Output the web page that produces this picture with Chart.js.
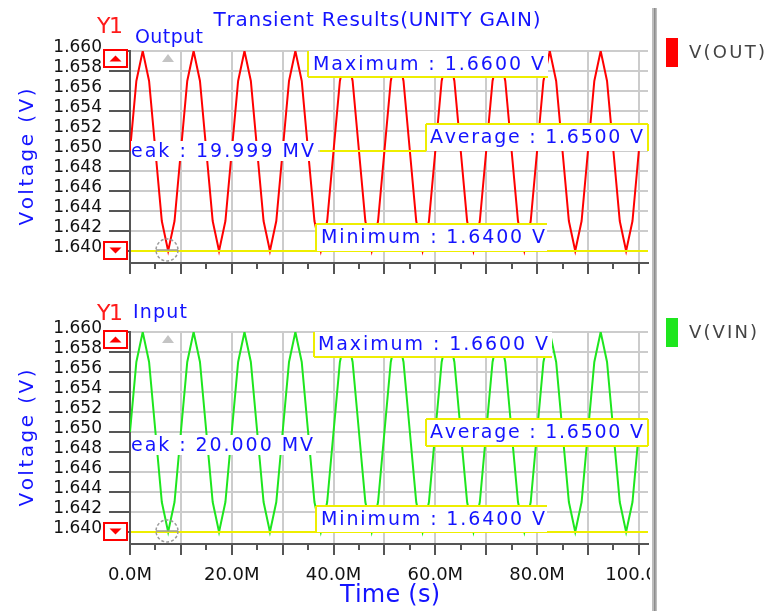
<!DOCTYPE html>
<html>
<head>
  <title>Transient Results(UNITY GAIN)</title>
  <script src="https://cdn.jsdelivr.net/npm/chart.js"></script>
  <style>
    body {
      margin: 0;
      background-color: #fff;
    }

    .wrap {
      position: relative;
      width: 767px;
      height: 611px;
      overflow: hidden;
    }

    canvas {
      position: absolute;
      left: 0;
    }

    #outChart { top: 0; }
    #inChart { top: 285px; }
  </style>
</head>
<body>
  <div class="wrap">
    <canvas id="outChart" width="767" height="285"></canvas>
    <canvas id="inChart" width="767" height="326"></canvas>
  </div>

  <script>
    // time in ms ("M" = milli in the spice viewer)
    const timeMs = [
      0, 1.25, 2.5, 3.75, 5, 6.25, 7.5, 8.75,
      10, 11.25, 12.5, 13.75, 15, 16.25, 17.5, 18.75,
      20, 21.25, 22.5, 23.75, 25, 26.25, 27.5, 28.75,
      30, 31.25, 32.5, 33.75, 35, 36.25, 37.5, 38.75,
      40, 41.25, 42.5, 43.75, 45, 46.25, 47.5, 48.75,
      50, 51.25, 52.5, 53.75, 55, 56.25, 57.5, 58.75,
      60, 61.25, 62.5, 63.75, 65, 66.25, 67.5, 68.75,
      70, 71.25, 72.5, 73.75, 75, 76.25, 77.5, 78.75,
      80, 81.25, 82.5, 83.75, 85, 86.25, 87.5, 88.75,
      90, 91.25, 92.5, 93.75, 95, 96.25, 97.5, 98.75,
      100
    ];

    const vOut = [
      1.650, 1.657, 1.660, 1.657, 1.650, 1.643, 1.640, 1.643,
      1.650, 1.657, 1.660, 1.657, 1.650, 1.643, 1.640, 1.643,
      1.650, 1.657, 1.660, 1.657, 1.650, 1.643, 1.640, 1.643,
      1.650, 1.657, 1.660, 1.657, 1.650, 1.643, 1.640, 1.643,
      1.650, 1.657, 1.660, 1.657, 1.650, 1.643, 1.640, 1.643,
      1.650, 1.657, 1.660, 1.657, 1.650, 1.643, 1.640, 1.643,
      1.650, 1.657, 1.660, 1.657, 1.650, 1.643, 1.640, 1.643,
      1.650, 1.657, 1.660, 1.657, 1.650, 1.643, 1.640, 1.643,
      1.650, 1.657, 1.660, 1.657, 1.650, 1.643, 1.640, 1.643,
      1.650, 1.657, 1.660, 1.657, 1.650, 1.643, 1.640, 1.643,
      1.650
    ];

    const vIn = [
      1.650, 1.657, 1.660, 1.657, 1.650, 1.643, 1.640, 1.643,
      1.650, 1.657, 1.660, 1.657, 1.650, 1.643, 1.640, 1.643,
      1.650, 1.657, 1.660, 1.657, 1.650, 1.643, 1.640, 1.643,
      1.650, 1.657, 1.660, 1.657, 1.650, 1.643, 1.640, 1.643,
      1.650, 1.657, 1.660, 1.657, 1.650, 1.643, 1.640, 1.643,
      1.650, 1.657, 1.660, 1.657, 1.650, 1.643, 1.640, 1.643,
      1.650, 1.657, 1.660, 1.657, 1.650, 1.643, 1.640, 1.643,
      1.650, 1.657, 1.660, 1.657, 1.650, 1.643, 1.640, 1.643,
      1.650, 1.657, 1.660, 1.657, 1.650, 1.643, 1.640, 1.643,
      1.650, 1.657, 1.660, 1.657, 1.650, 1.643, 1.640, 1.643,
      1.650
    ];

    const yTicks = [1.640, 1.642, 1.644, 1.646, 1.648, 1.650, 1.652, 1.654, 1.656, 1.658, 1.660];
    const xTicks = [0, 5, 10, 15, 20, 25, 30, 35, 40, 45, 50, 55, 60, 65, 70, 75, 80, 85, 90, 95, 100];
    const xLabelValues = [0, 20, 40, 60, 80, 100];
    const xLabels = ['0.0M', '20.0M', '40.0M', '60.0M', '80.0M', '100.0M'];

    const FONT = 'DejaVu Sans';
    const BLUE = '#1414ff';
    const YELLOW = '#eeee00';

    // draw text char by char so it fills a given width (the viewer's bitmap font is wide)
    function spacedText(ctx, text, x, y, width, align) {
      const chars = [...text];
      const w = chars.map(c => ctx.measureText(c).width);
      const natural = w.reduce((a, b) => a + b, 0);
      const gap = chars.length > 1 ? (width - natural) / (chars.length - 1) : 0;
      let cx = align === 'center' ? x - width / 2 : x;
      ctx.textAlign = 'left';
      chars.forEach((c, i) => {
        ctx.fillText(c, cx, y);
        cx += w[i] + gap;
      });
    }

    function button(ctx, x, y, up) {
      ctx.fillStyle = '#fff';
      ctx.fillRect(x, y, 23, 17);
      ctx.strokeStyle = '#ff0000';
      ctx.lineWidth = 2;
      ctx.strokeRect(x, y, 23, 17);
      const cx = x + 11.5, cy = y + 8.5;
      ctx.fillStyle = '#ff0000';
      ctx.beginPath();
      if (up) {
        ctx.moveTo(cx - 6, cy + 3); ctx.lineTo(cx + 6, cy + 3); ctx.lineTo(cx, cy - 3);
      } else {
        ctx.moveTo(cx - 6, cy - 3); ctx.lineTo(cx + 6, cy - 3); ctx.lineTo(cx, cy + 3);
      }
      ctx.closePath();
      ctx.fill();
    }

    function decorPlugin(panel) {
      return {
        id: 'decor',
        afterDraw(chart) {
          const ctx = chart.ctx;
          const area = chart.chartArea;
          const xs = chart.scales.x;
          const ys = chart.scales.y;
          ctx.save();

          // x tick marks, long every 10, short in between
          ctx.strokeStyle = '#555';
          ctx.lineWidth = 2;
          xTicks.forEach(t => {
            const px = Math.round(xs.getPixelForValue(t));
            const len = t % 10 === 0 ? 11 : 6;
            ctx.beginPath();
            ctx.moveTo(px, area.bottom);
            ctx.lineTo(px, area.bottom + len);
            ctx.stroke();
          });

          // level lines
          ctx.strokeStyle = YELLOW;
          ctx.lineWidth = 2;
          panel.lines.forEach(l => {
            const ly = Math.round(ys.getPixelForValue(l.value));
            ctx.beginPath();
            ctx.moveTo(l.x0, ly);
            ctx.lineTo(l.x1, ly);
            ctx.stroke();
          });

          // measurement boxes
          ctx.font = '19px "' + FONT + '"';
          ctx.textBaseline = 'middle';
          panel.boxes.forEach(b => {
            const ly = Math.round(ys.getPixelForValue(b.value));
            const y0 = ly + b.dy0, y1 = ly + b.dy1;
            ctx.fillStyle = '#fff';
            ctx.fillRect(b.x0, y0, b.x1 - b.x0, y1 - y0);
            ctx.strokeStyle = YELLOW;
            ctx.lineWidth = 2;
            ctx.beginPath();
            if (b.edges.includes('l')) { ctx.moveTo(b.x0, y0); ctx.lineTo(b.x0, y1); }
            if (b.edges.includes('r')) { ctx.moveTo(b.x1, y0); ctx.lineTo(b.x1, y1); }
            if (b.edges.includes('t')) { ctx.moveTo(b.x0, y0); ctx.lineTo(b.x1, y0); }
            if (b.edges.includes('b')) { ctx.moveTo(b.x0, y1); ctx.lineTo(b.x1, y1); }
            ctx.stroke();
            ctx.fillStyle = BLUE;
            spacedText(ctx, b.text, b.tx, (y0 + y1) / 2 + 1, b.tw, 'left');
          });

          // peak to peak label (left part hidden behind the axis)
          const p = panel.peak;
          const py = Math.round(ys.getPixelForValue(p.value)) + p.dy;
          ctx.fillStyle = '#fff';
          ctx.fillRect(area.left + 1, py - 10, p.x1 - area.left - 1, 20);
          ctx.fillStyle = BLUE;
          spacedText(ctx, p.text, p.tx, py + 1, p.tw, 'left');

          // scroll buttons and cursor marks
          button(ctx, 104, area.top - 1, true);
          button(ctx, 104, area.bottom - 21, false);
          ctx.strokeStyle = '#9a9a9a';
          ctx.lineWidth = 1.5;
          ctx.setLineDash([3, 2]);
          ctx.beginPath();
          ctx.arc(167, area.bottom - 13, 11, 0, Math.PI * 2);
          ctx.stroke();
          ctx.setLineDash([]);
          ctx.beginPath();
          ctx.moveTo(156, area.bottom - 13);
          ctx.lineTo(178, area.bottom - 13);
          ctx.stroke();
          ctx.fillStyle = '#c4c4c4';
          ctx.beginPath();
          ctx.moveTo(162, area.top + 11);
          ctx.lineTo(174, area.top + 11);
          ctx.lineTo(168, area.top + 3);
          ctx.closePath();
          ctx.fill();

          // texts around the plot
          if (panel.title) {
            ctx.font = '20px "' + FONT + '"';
            ctx.fillStyle = BLUE;
            spacedText(ctx, panel.title, 377, 21, 327, 'center');
          }
          ctx.font = '20px "' + FONT + '"';
          ctx.fillStyle = BLUE;
          ctx.save();
          ctx.translate(28, (area.top + area.bottom) / 2);
          ctx.rotate(-Math.PI / 2);
          spacedText(ctx, 'Voltage (V)', 0, 0, 137, 'center');
          ctx.restore();

          ctx.font = '22px "' + FONT + '"';
          ctx.fillStyle = '#ff1a1a';
          ctx.textBaseline = 'alphabetic';
          spacedText(ctx, 'Y1', 97, panel.y1Base, 26, 'left');
          ctx.textBaseline = 'middle';

          ctx.font = '19px "' + FONT + '"';
          ctx.fillStyle = BLUE;
          spacedText(ctx, panel.name, panel.nameX, panel.nameY, panel.nameW, 'left');

          if (panel.xTitle) {
            ctx.font = '24px "' + FONT + '"';
            ctx.fillStyle = BLUE;
            spacedText(ctx, panel.xTitle, 390, 311, 100, 'center');
          }

          // legend panel on the right
          ctx.fillStyle = '#fff';
          ctx.fillRect(650, 0, 117, chart.height);
          ctx.fillStyle = '#bdbdbd';
          ctx.fillRect(652, panel.sepTop, 5, chart.height - panel.sepTop);
          ctx.fillStyle = '#8c8c8c';
          ctx.fillRect(654, panel.sepTop, 1.5, chart.height - panel.sepTop);
          ctx.fillStyle = panel.color;
          ctx.fillRect(666, panel.swatchY, 12, 29);
          ctx.font = '18px "' + FONT + '"';
          ctx.fillStyle = '#444';
          spacedText(ctx, panel.legend, 689, panel.swatchY + 15, panel.legendW, 'left');

          ctx.restore();
        }
      };
    }

    function makeChart(panel) {
      const points = timeMs.map((t, i) => ({ x: t, y: panel.values[i] }));
      return new Chart(document.getElementById(panel.canvas), {
        type: 'line',
        data: {
          datasets: [{
            label: panel.legend,
            data: points,
            borderColor: panel.color,
            borderWidth: 2,
            pointRadius: 0,
            tension: 0,
            fill: false
          }]
        },
        options: {
          responsive: false,
          animation: false,
          devicePixelRatio: 1,
          layout: { padding: { left: 0, right: 119, top: panel.padTop, bottom: 0 } },
          plugins: {
            legend: { display: false },
            tooltip: { enabled: false },
            title: { display: false }
          },
          scales: {
            x: {
              type: 'linear',
              min: 0,
              max: 101.8,
              afterBuildTicks: scale => { scale.ticks = xTicks.map(v => ({ value: v })); },
              afterFit: scale => { scale.height = panel.axisHeight; },
              grid: {
                color: c => (c.tick && c.tick.value % 10 === 0 ? '#cccccc' : 'rgba(0,0,0,0)'),
                lineWidth: 2,
                drawTicks: false
              },
              border: { color: '#555', width: 2 },
              ticks: {
                display: panel.showXLabels,
                autoSkip: false,
                minRotation: 0,
                maxRotation: 0,
                padding: 21,
                color: '#111',
                font: { family: FONT, size: 18 },
                callback: v => {
                  const i = xLabelValues.indexOf(v);
                  return i >= 0 ? xLabels[i] : '';
                }
              }
            },
            y: {
              min: 1.6388,
              max: 1.660,
              afterBuildTicks: scale => { scale.ticks = yTicks.map(v => ({ value: v })); },
              afterFit: scale => { scale.width = 130; },
              grid: {
                color: '#cccccc',
                lineWidth: 2,
                drawTicks: true,
                tickLength: 21,
                tickColor: '#555'
              },
              border: { color: '#555', width: 2 },
              ticks: {
                autoSkip: false,
                padding: 7,
                labelOffset: -3,
                color: '#111',
                font: { family: FONT, size: 17 },
                callback: v => v.toFixed(3)
              }
            }
          }
        },
        plugins: [decorPlugin(panel)]
      });
    }

    const outPanel = {
      canvas: 'outChart', values: vOut, color: '#ff0000', legend: 'V(OUT)', legendW: 76,
      padTop: 51, axisHeight: 22, showXLabels: false,
      title: 'Transient Results(UNITY GAIN)',
      name: 'Output', nameX: 135, nameY: 38, nameW: 68, y1Base: 33,
      sepTop: 8, swatchY: 38,
      lines: [
        { value: 1.650, x0: 320, x1: 426 },
        { value: 1.640, x0: 131, x1: 648 }
      ],
      boxes: [
        { text: 'Maximum : 1.6600 V', value: 1.660, x0: 308, x1: 548, dy0: 0, dy1: 26, edges: 'lb', tx: 313, tw: 231 },
        { text: 'Average : 1.6500 V', value: 1.650, x0: 426, x1: 648, dy0: -27, dy1: 0, edges: 'ltr', tx: 430, tw: 213 },
        { text: 'Minimum : 1.6400 V', value: 1.640, x0: 316, x1: 547, dy0: -27, dy1: 0, edges: 'lt', tx: 321, tw: 224 }
      ],
      peak: { text: 'eak : 19.999 MV', value: 1.650, dy: 0, x1: 318, tx: 131, tw: 183 }
    };

    const inPanel = {
      canvas: 'inChart', values: vIn, color: '#1ee61e', legend: 'V(VIN)', legendW: 68,
      padTop: 47, axisHeight: 67, showXLabels: true,
      xTitle: 'Time (s)',
      name: 'Input', nameX: 133, nameY: 28, nameW: 54, y1Base: 35,
      sepTop: 0, swatchY: 33,
      lines: [
        { value: 1.640, x0: 131, x1: 648 }
      ],
      boxes: [
        { text: 'Maximum : 1.6600 V', value: 1.660, x0: 314, x1: 552, dy0: 0, dy1: 25, edges: 'lb', tx: 318, tw: 230 },
        { text: 'Average : 1.6500 V', value: 1.650, x0: 426, x1: 648, dy0: -13, dy1: 14, edges: 'ltrb', tx: 430, tw: 213 },
        { text: 'Minimum : 1.6400 V', value: 1.640, x0: 316, x1: 547, dy0: -26, dy1: 0, edges: 'lt', tx: 321, tw: 224 }
      ],
      peak: { text: 'eak : 20.000 MV', value: 1.650, dy: 13, x1: 316, tx: 131, tw: 182 }
    };

    makeChart(outPanel);
    makeChart(inPanel);
  </script>
</body>
</html>
